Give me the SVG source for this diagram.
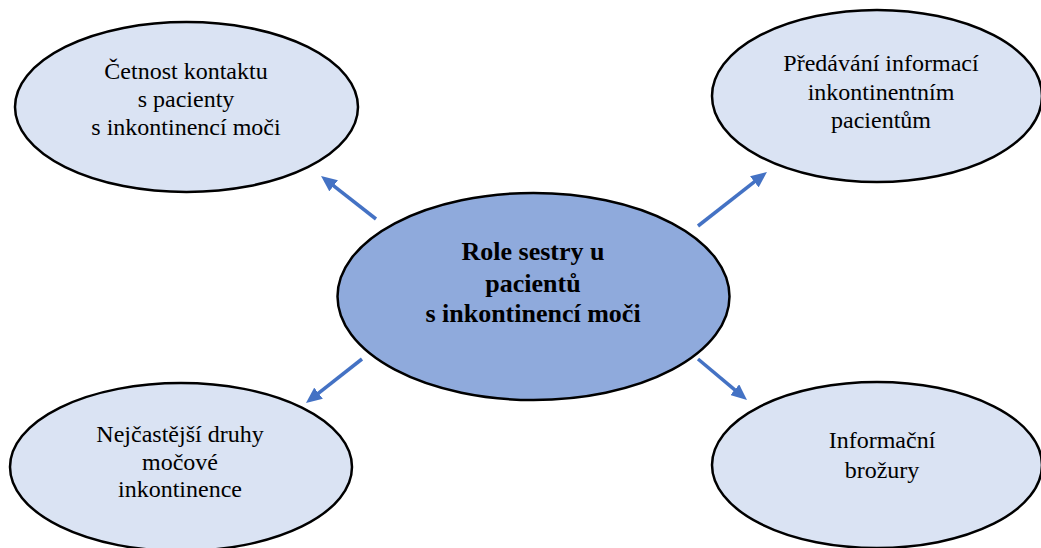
<svg xmlns="http://www.w3.org/2000/svg" width="1041" height="548" viewBox="0 0 1041 548">
<style>
.bg{fill:#ffffff}
.outer{fill:#DAE3F3;stroke:#000;stroke-width:2.5}
.center{fill:#8FAADC;stroke:#000;stroke-width:2.5}
.t{font-family:"Liberation Serif","Times New Roman",serif;font-size:24px;fill:#000;text-anchor:middle}
.tb{font-family:"Liberation Serif","Times New Roman",serif;font-size:26px;font-weight:bold;fill:#000;text-anchor:middle}
.conn{stroke:#4472C4;stroke-width:3.5;fill:none;marker-end:url(#ah)}
</style>
<defs>
<marker id="ah" markerUnits="userSpaceOnUse" markerWidth="16" markerHeight="14" refX="4" refY="7" orient="auto">
<path d="M0,0 L16,7 L0,14 z" fill="#4472C4"/>
</marker>
</defs>
<rect class="bg" x="0" y="0" width="1041" height="548"/>
<g id="connectors">
<line class="conn" x1="376" y1="219" x2="330.5" y2="183.4"/>
<line class="conn" x1="698" y1="226" x2="757.5" y2="179.4"/>
<line class="conn" x1="362" y1="359" x2="315.4" y2="395.6"/>
<line class="conn" x1="698" y1="359" x2="737.8" y2="392.3"/>
</g>
<g id="node-center">
<ellipse class="center" cx="533.5" cy="296.5" rx="196" ry="103.5"/>
<text class="tb" x="533" y="260">Role sestry u</text>
<text class="tb" x="533" y="292">pacientů</text>
<text class="tb" x="533" y="322">s inkontinencí moči</text>
</g>
<g id="node-cetnost">
<ellipse class="outer" cx="186.5" cy="107" rx="171.5" ry="85"/>
<text class="t" x="186" y="79">Četnost kontaktu</text>
<text class="t" x="186" y="107">s pacienty</text>
<text class="t" x="186" y="135">s inkontinencí moči</text>
</g>
<g id="node-predavani">
<ellipse class="outer" cx="877" cy="96" rx="165" ry="86"/>
<text class="t" x="881" y="71">Předávání informací</text>
<text class="t" x="881" y="100">inkontinentním</text>
<text class="t" x="881" y="128">pacientům</text>
</g>
<g id="node-druhy">
<ellipse class="outer" cx="181" cy="467" rx="171" ry="84"/>
<text class="t" x="180" y="442">Nejčastější druhy</text>
<text class="t" x="180" y="470">močové</text>
<text class="t" x="180" y="497">inkontinence</text>
</g>
<g id="node-brozury">
<ellipse class="outer" cx="877" cy="465" rx="165" ry="83"/>
<text class="t" x="882" y="448">Informační</text>
<text class="t" x="882" y="478">brožury</text>
</g>
</svg>
